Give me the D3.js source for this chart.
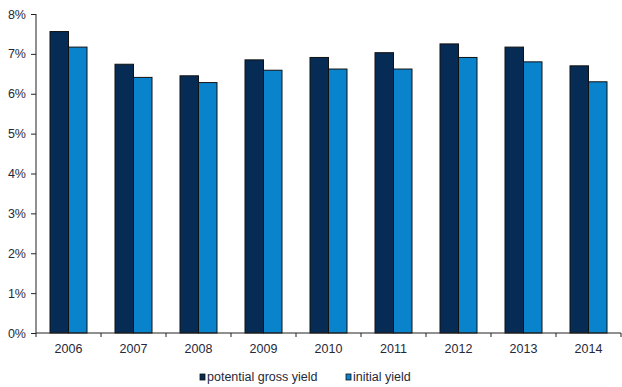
<!DOCTYPE html>
<html>
<head>
<meta charset="utf-8">
<script src="https://cdn.jsdelivr.net/npm/d3@7"></script>
<style>
  body { margin: 0; background: #fff; }
  svg text { font-family: "Liberation Sans", Arial, sans-serif; fill: #26283a; }
</style>
</head>
<body>
<svg width="622" height="387"></svg>
<script>
var years = ["2006", "2007", "2008", "2009", "2010", "2011", "2012", "2013", "2014"];
var grossYield = [7.56, 6.74, 6.45, 6.85, 6.91, 7.03, 7.25, 7.17, 6.70];
var initialYield = [7.17, 6.41, 6.28, 6.59, 6.62, 6.62, 6.91, 6.80, 6.30];
var seriesNames = ["potential gross yield", "initial yield"];
var colors = ["#062c55", "#0a83cd"];

var svg = d3.select("svg"),
    margin = {top: 14, right: 1, bottom: 54, left: 36},
    width = +svg.attr("width") - margin.left - margin.right,
    height = +svg.attr("height") - margin.top - margin.bottom;

var x = d3.scaleBand().domain(years).range([0, width]),
    x1 = d3.scaleBand().domain([0, 1]).range([14, 51]),
    y = d3.scaleLinear().domain([0, 8]).range([height, 0]);

var g = svg.append("g")
    .attr("transform", "translate(" + margin.left + "," + margin.top + ")");

var data = years.map(function(yr, i) {
  return {year: yr, values: [grossYield[i], initialYield[i]]};
});

var groups = g.selectAll(".year")
    .data(data)
  .enter().append("g")
    .attr("transform", function(d) { return "translate(" + x(d.year) + ",0)"; });

groups.selectAll("rect")
    .data(function(d) { return d.values; })
  .enter().append("rect")
    .attr("x", function(d, i) { return x1(i); })
    .attr("y", function(d) { return y(d); })
    .attr("width", x1.bandwidth())
    .attr("height", function(d) { return height - y(d); })
    .attr("fill", function(d, i) { return colors[i]; })
    .attr("stroke", "#111")
    .attr("stroke-width", 1);

// y axis
var yAxis = d3.axisLeft(y).ticks(8).tickSize(5).tickPadding(5)
    .tickFormat(function(d) { return d + "%"; });
var ya = g.append("g").call(yAxis);
ya.select(".domain").attr("d", "M0," + height + "V0").attr("stroke", "#222");
ya.selectAll("line").attr("stroke", "#222");
ya.selectAll("text").attr("font-size", 12.5);

// x axis with ticks at category boundaries
var xa = g.append("g").attr("transform", "translate(0," + height + ")");
xa.append("line").attr("x1", 0).attr("x2", width).attr("stroke", "#222");
var bounds = years.map(function(d) { return x(d); }).concat([width]);
xa.selectAll(".tk").data(bounds).enter().append("line")
    .attr("x1", function(d) { return d; }).attr("x2", function(d) { return d; })
    .attr("y1", 0).attr("y2", 4).attr("stroke", "#222");
xa.selectAll(".lbl").data(years).enter().append("text")
    .attr("x", function(d) { return x(d) + x.bandwidth() / 2; })
    .attr("y", 20)
    .attr("text-anchor", "middle")
    .attr("font-size", 12.5)
    .text(function(d) { return d; });

// legend
var legend = svg.append("g").attr("transform", "translate(0,377)");
var lx = [200, 346];
seriesNames.forEach(function(name, i) {
  legend.append("rect")
      .attr("x", lx[i]).attr("y", -3)
      .attr("width", 5).attr("height", 6)
      .attr("fill", colors[i]).attr("stroke", "#111").attr("stroke-width", 0.8);
  legend.append("text")
      .attr("x", lx[i] + 7).attr("y", 4)
      .attr("font-size", 12.5)
      .text(name);
});
</script>
</body>
</html>
